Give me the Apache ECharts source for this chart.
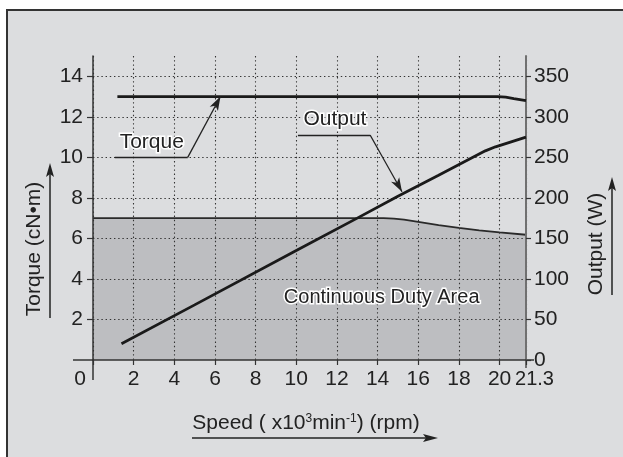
<!DOCTYPE html>
<html>
<head>
<meta charset="utf-8">
<script src="https://cdn.jsdelivr.net/npm/echarts@6/dist/echarts.min.js"></script>
<style>
html, body { margin: 0; padding: 0; background: #fff; }
#chart { width: 623px; height: 457px; }
</style>
</head>
<body>
<div id="chart"></div>
<script>
// tick values
var speedTicks = [0, 2, 4, 6, 8, 10, 12, 14, 16, 18, 20, 21.3];
var torqueTicks = [2, 4, 6, 8, 10, 12, 14];
var outputTicks = [0, 50, 100, 150, 200, 250, 300, 350];

// max torque curve (cN·m)
var torqueSpeed = [1.2, 19.9, 20.3, 20.7, 21.3];
var torqueValue = [13, 13, 12.97, 12.9, 12.8];

// continuous duty area boundary (cN·m)
var dutySpeed = [0, 14.3, 14.8, 15.3, 16, 17, 18, 19, 20, 21.3];
var dutyTorque = [7, 7, 6.98, 6.93, 6.82, 6.66, 6.52, 6.4, 6.3, 6.18];

// output curve (W)
var outputSpeed = [1.4, 5, 10, 13, 15, 17, 19.3, 19.8, 20.3, 21.3];
var outputWatt = [20, 68, 135, 175, 202, 228, 258, 263, 267, 275];

function pairs(xs, ys) {
    return xs.map(function (x, i) { return [x, ys[i]]; });
}

var FONT = '"Liberation Sans", Arial, sans-serif';
var dotted = { color: '#333', width: 1.1, type: [1.4, 2.8] };

var chart = echarts.init(document.getElementById('chart'), null, { renderer: 'canvas' });

var option = {
    animation: false,
    backgroundColor: '#fff',
    grid: { left: 93, right: 97, top: 56, bottom: 97, outerBoundsMode: 'none' },
    xAxis: {
        type: 'value',
        min: 0,
        max: 21.3,
        axisLine: { onZero: false, lineStyle: { color: '#333', width: 1.5 } },
        axisTick: { customValues: speedTicks, length: 5, lineStyle: { color: '#333', width: 1.2 } },
        axisLabel: {
            customValues: speedTicks,
            margin: 9,
            color: '#222',
            fontSize: 21,
            fontFamily: FONT,
            formatter: function (v) {
                if (v === 0) return '{l|0}';
                if (v === 21.3) return '{r|21.3}';
                return String(v);
            },
            rich: {
                l: { fontSize: 21, fontFamily: FONT, color: '#222', padding: [0, 26, 0, 0] },
                r: { fontSize: 20, fontFamily: FONT, color: '#222', padding: [0, 0, 0, 17] }
            }
        },
        splitLine: { show: true, lineStyle: dotted }
    },
    yAxis: [
        {
            type: 'value',
            min: 0,
            max: 15,
            position: 'left',
            axisLine: { show: true, onZero: false, lineStyle: { color: '#333', width: 1.5 } },
            axisTick: { show: true, customValues: torqueTicks, length: 6, lineStyle: { color: '#333', width: 1.2 } },
            axisLabel: { customValues: torqueTicks, margin: 10, color: '#222', fontSize: 21, fontFamily: FONT },
            splitLine: { show: true, lineStyle: dotted }
        },
        {
            type: 'value',
            min: 0,
            max: 375,
            position: 'right',
            axisLine: { show: true, onZero: false, lineStyle: { color: '#707070', width: 2 } },
            axisTick: { show: true, customValues: outputTicks, length: 5, lineStyle: { color: '#333', width: 1.2 } },
            axisLabel: { customValues: outputTicks, margin: 8, color: '#222', fontSize: 21, fontFamily: FONT },
            splitLine: { show: false }
        }
    ],
    series: [
        {
            name: 'Continuous Duty Area',
            type: 'line',
            z: -1,
            yAxisIndex: 0,
            symbol: 'none',
            data: pairs(dutySpeed, dutyTorque),
            lineStyle: { color: '#2a2a2a', width: 1.8 },
            areaStyle: { color: '#bdbec1', opacity: 1 },
            markPoint: {
                symbol: 'circle',
                symbolSize: 1,
                itemStyle: { color: 'rgba(0,0,0,0)' },
                label: {
                    show: true, position: 'inside', color: '#222', fontSize: 20, fontFamily: FONT,
                    textBorderColor: '#fff', textBorderWidth: 3,
                    formatter: function (p) { return p.name; }
                },
                data: [{ name: 'Continuous Duty Area', coord: [14.2, 3.1] }]
            }
        },
        {
            name: 'Torque',
            type: 'line',
            yAxisIndex: 0,
            symbol: 'none',
            data: pairs(torqueSpeed, torqueValue),
            lineStyle: { color: '#1a1a1a', width: 2.8 },
            markLine: {
                silent: true,
                symbol: ['none', 'none'],
                lineStyle: { color: '#222', width: 1.3, type: 'solid' },
                label: { show: false },
                data: [
                    [{ coord: [1.07, 10] }, { coord: [4.66, 10] }],
                    [{ coord: [4.66, 10] }, { coord: [6.27, 13], symbol: 'arrow', symbolSize: [7, 14] }],
                    [{ coord: [10.08, 11.1] }, { coord: [13.63, 11.1] }],
                    [{ coord: [13.63, 11.1] }, { coord: [15.2, 8.3], symbol: 'arrow', symbolSize: [7, 14] }]
                ]
            },
            markPoint: {
                symbol: 'circle',
                symbolSize: 1,
                itemStyle: { color: 'rgba(0,0,0,0)' },
                label: {
                    show: true, position: 'inside', color: '#222', fontSize: 21, fontFamily: FONT,
                    textBorderColor: '#fff', textBorderWidth: 3,
                    formatter: function (p) { return p.name; }
                },
                data: [
                    { name: 'Torque', coord: [2.89, 10.75] },
                    { name: 'Output', coord: [11.9, 11.9] }
                ]
            }
        },
        {
            name: 'Output',
            type: 'line',
            yAxisIndex: 1,
            symbol: 'none',
            data: pairs(outputSpeed, outputWatt),
            lineStyle: { color: '#1a1a1a', width: 2.8 }
        }
    ]
};

chart.setOption(option);

// frame, axis titles with arrows, axis line extensions
var o = chart.convertToPixel({ gridIndex: 0 }, [0, 0]);
var e = chart.convertToPixel({ gridIndex: 0 }, [21.3, 0]);
var titleStyle = { fill: '#222', fontSize: 21, fontFamily: FONT, align: 'center', verticalAlign: 'middle' };

chart.setOption({
    graphic: [
        { type: 'rect', z: -100, silent: true, shape: { x: 7, y: 10, width: 700, height: 500 },
          style: { fill: '#dcdddf', stroke: '#333', lineWidth: 2 } },
        // axis line extensions
        { type: 'line', silent: true, shape: { x1: o[0] - 20, y1: o[1], x2: o[0], y2: o[1] }, style: { stroke: '#333', lineWidth: 1.5 } },
        { type: 'line', silent: true, shape: { x1: e[0], y1: e[1], x2: e[0] + 8, y2: e[1] }, style: { stroke: '#333', lineWidth: 1.5 } },
        { type: 'line', silent: true, shape: { x1: o[0], y1: o[1], x2: o[0], y2: o[1] + 20 }, style: { stroke: '#333', lineWidth: 1.5 } },
        { type: 'line', silent: true, shape: { x1: e[0], y1: e[1], x2: e[0], y2: e[1] + 8 }, style: { stroke: '#707070', lineWidth: 2 } },
        // left title
        { type: 'text', x: 34, y: 249, rotation: Math.PI / 2, style: Object.assign({ text: 'Torque (cN\u2022m)' }, titleStyle) },
        { type: 'line', shape: { x1: 50, y1: 318, x2: 50, y2: 172 }, style: { stroke: '#222', lineWidth: 1.5 } },
        { type: 'polygon', shape: { points: [[50, 163], [46, 177], [50, 174], [54, 177]] }, style: { fill: '#222' } },
        // right title
        { type: 'text', x: 596, y: 244, rotation: Math.PI / 2, style: Object.assign({ text: 'Output (W)' }, titleStyle) },
        { type: 'line', shape: { x1: 612, y1: 295, x2: 612, y2: 186 }, style: { stroke: '#222', lineWidth: 1.5 } },
        { type: 'polygon', shape: { points: [[612, 177], [608, 191], [612, 188], [616, 191]] }, style: { fill: '#222' } },
        // bottom title
        { type: 'text', x: 306, y: 423, style: Object.assign({
            text: 'Speed ( x10{sup|3}min{sup|-1}) (rpm)',
            rich: { sup: { fontSize: 12, fontFamily: FONT, fill: '#222', verticalAlign: 'top', lineHeight: 12 } }
          }, titleStyle) },
        { type: 'line', shape: { x1: 192, y1: 438, x2: 428, y2: 438 }, style: { stroke: '#222', lineWidth: 1.5 } },
        { type: 'polygon', shape: { points: [[438, 438], [423, 434], [426, 438], [423, 442]] }, style: { fill: '#222' } }
    ]
});
</script>
</body>
</html>
